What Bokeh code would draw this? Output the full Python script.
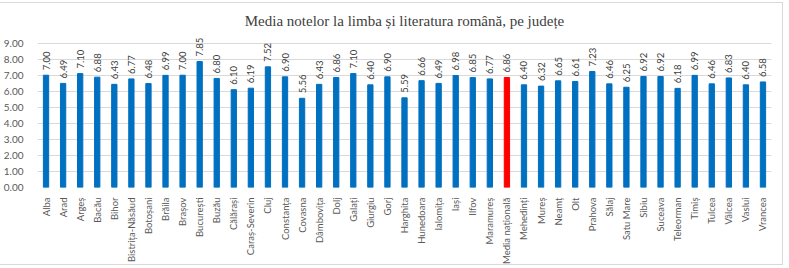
from bokeh.plotting import figure
from bokeh.models import ColumnDataSource, FixedTicker, NumeralTickFormatter, Range1d, FactorRange
from bokeh.core.properties import value
from bokeh.embed import file_html
from bokeh.resources import INLINE
import math

judete = ["Alba", "Arad", "Argeș", "Bacău", "Bihor", "Bistrița-Năsăud", "Botoșani", "Brăila",
          "Brașov", "București", "Buzău", "Călărași", "Caraș-Severin", "Cluj", "Constanța",
          "Covasna", "Dâmbovița", "Dolj", "Galați", "Giurgiu", "Gorj", "Harghita", "Hunedoara",
          "Ialomița", "Iași", "Ilfov", "Maramureș", "Media națională", "Mehedinți", "Mureș",
          "Neamț", "Olt", "Prahova", "Sălaj", "Satu Mare", "Sibiu", "Suceava", "Teleorman",
          "Timiș", "Tulcea", "Vâlcea", "Vaslui", "Vrancea"]
medii = [7.00, 6.49, 7.10, 6.88, 6.43, 6.77, 6.48, 6.99, 7.00, 7.85, 6.80, 6.10, 6.19, 7.52,
         6.90, 5.56, 6.43, 6.86, 7.10, 6.40, 6.90, 5.59, 6.66, 6.49, 6.98, 6.85, 6.77, 6.86,
         6.40, 6.32, 6.65, 6.61, 7.23, 6.46, 6.25, 6.92, 6.92, 6.18, 6.99, 6.46, 6.83, 6.40, 6.58]
y_ticks = [0, 1, 2, 3, 4, 5, 6, 7, 8, 9]
titlu = "Media notelor la limba și literatura română, pe județe"

colors = ["#FF0000" if j == "Media națională" else "#0070C0" for j in judete]
labels = ["%.2f" % v for v in medii]
src = ColumnDataSource(dict(x=judete, y=medii, c=colors, t=labels))

p = figure(width=783, height=263, x_range=FactorRange(*judete), y_range=Range1d(0, 9.6),
           output_backend="svg", toolbar_location=None, title=titlu,
           min_border_left=34, min_border_right=12, min_border_top=30, min_border_bottom=78)

p.title.text_font = "Liberation Serif"
p.title.text_font_size = "15px"
p.title.text_font_style = "normal"
p.title.text_color = "#404040"
p.title.align = "center"
p.title.offset = 0

p.vbar(x="x", top="y", width=0.31, color="c", source=src)
p.text(x="x", y="y", text="t", angle=math.pi / 2, y_offset=-5, text_align="left",
       text_baseline="middle", text_font=value("Lato"), text_font_size="9.5px",
       text_color="#404040", source=src)

p.x_range.range_padding = 0
p.xgrid.grid_line_color = None
p.ygrid.grid_line_color = "#d9d9d9"
p.yaxis.ticker = FixedTicker(ticks=y_ticks)
p.yaxis.formatter = NumeralTickFormatter(format="0.00")
for ax in (p.xaxis, p.yaxis):
    ax.axis_line_color = None
    ax.major_tick_line_color = None
    ax.minor_tick_line_color = None
    ax.major_label_text_font = "Lato"
    ax.major_label_text_color = "#595959"
p.yaxis.major_label_text_font_size = "10px"
p.xaxis.major_label_text_font_size = "9.5px"
p.yaxis.major_label_standoff = 8
p.xaxis.major_label_standoff = 4
p.xaxis.major_label_orientation = math.pi / 2
p.outline_line_color = None
p.styles = {"border-top": "1px solid #d9d9d9", "border-right": "1px solid #d9d9d9",
            "border-bottom": "1px solid #d9d9d9", "margin-top": "2px"}

open("out.html", "w").write(file_html(p, INLINE))
